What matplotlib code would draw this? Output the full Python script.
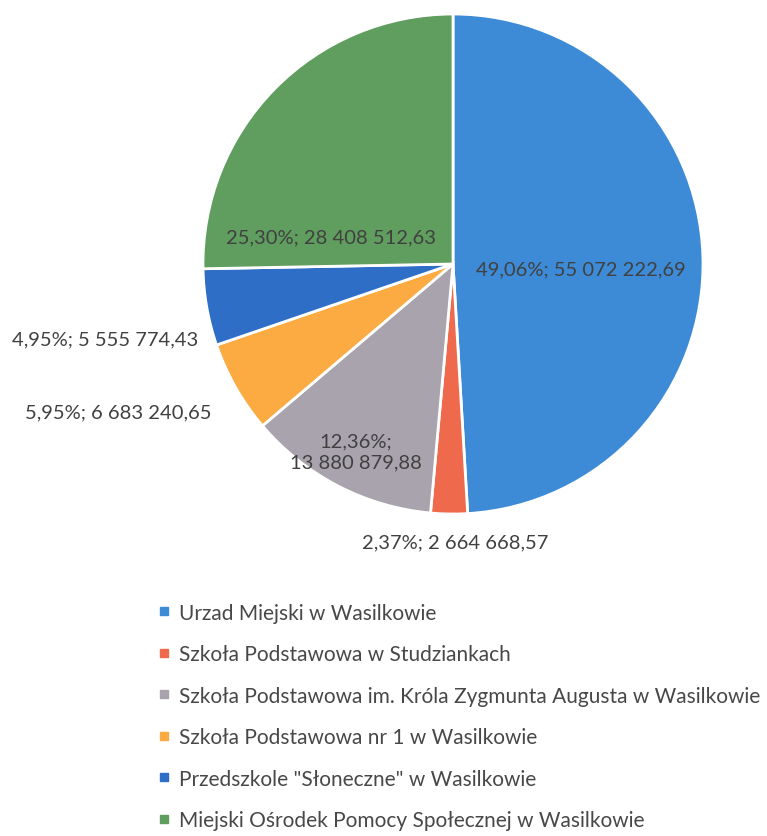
import matplotlib.pyplot as plt
from matplotlib.lines import Line2D

plt.rcParams['font.family'] = ['Lato', 'DejaVu Sans']

names = ['Urzad Miejski w Wasilkowie',
         'Szkoła Podstawowa w Studziankach',
         'Szkoła Podstawowa im. Króla Zygmunta Augusta w Wasilkowie',
         'Szkoła Podstawowa nr 1 w Wasilkowie',
         'Przedszkole "Słoneczne" w Wasilkowie',
         'Miejski Ośrodek Pomocy Społecznej w Wasilkowie']
shares = [49.06, 2.37, 12.36, 5.95, 4.95, 25.30]
amounts = ['55 072 222,69', '2 664 668,57', '13 880 879,88',
           '6 683 240,65', '5 555 774,43', '28 408 512,63']
colors = ['#3d8bd6', '#ef6a4c', '#a8a3ad', '#fcab42', '#2f6ec6', '#5f9e5e']

# label spots (data coords, pie radius = 1)
label_pos = [(0.51, -0.02), (0.01, -1.11), (-0.39, -0.75),
             (-1.34, -0.59), (-1.39, -0.30), (-0.49, 0.11)]

fig = plt.figure(figsize=(7.67, 8.37), dpi=100)
ax = fig.add_axes([203/767, 1 - 515/837, 500/767, 500/837])
wedges, _ = ax.pie(shares, colors=colors, startangle=90, counterclock=False,
                   radius=1, wedgeprops=dict(edgecolor='white', linewidth=2))
ax.set_xlim(-1, 1)
ax.set_ylim(-1, 1)
ax.set_aspect('equal')
ax.axis('off')

for i, (x, y) in enumerate(label_pos):
    pct = f"{shares[i]:.2f}".replace('.', ',') + '%;'
    sep = '\n' if i == 2 else ' '
    ax.text(x, y, pct + sep + amounts[i], ha='center', va='center',
            fontsize=14.5, color='#404040', linespacing=1.25, clip_on=False)

handles = [Line2D([], [], marker='s', linestyle='', markersize=6,
                  markerfacecolor=c, markeredgecolor=c) for c in colors]
fig.legend(handles, names, loc='upper left', bbox_to_anchor=(139/767, 1 - 585/837),
           frameon=False, fontsize=15, labelspacing=1.03, handlelength=0.6,
           handletextpad=0.4, labelcolor='#484848')

fig.savefig('out.png', dpi=100)
